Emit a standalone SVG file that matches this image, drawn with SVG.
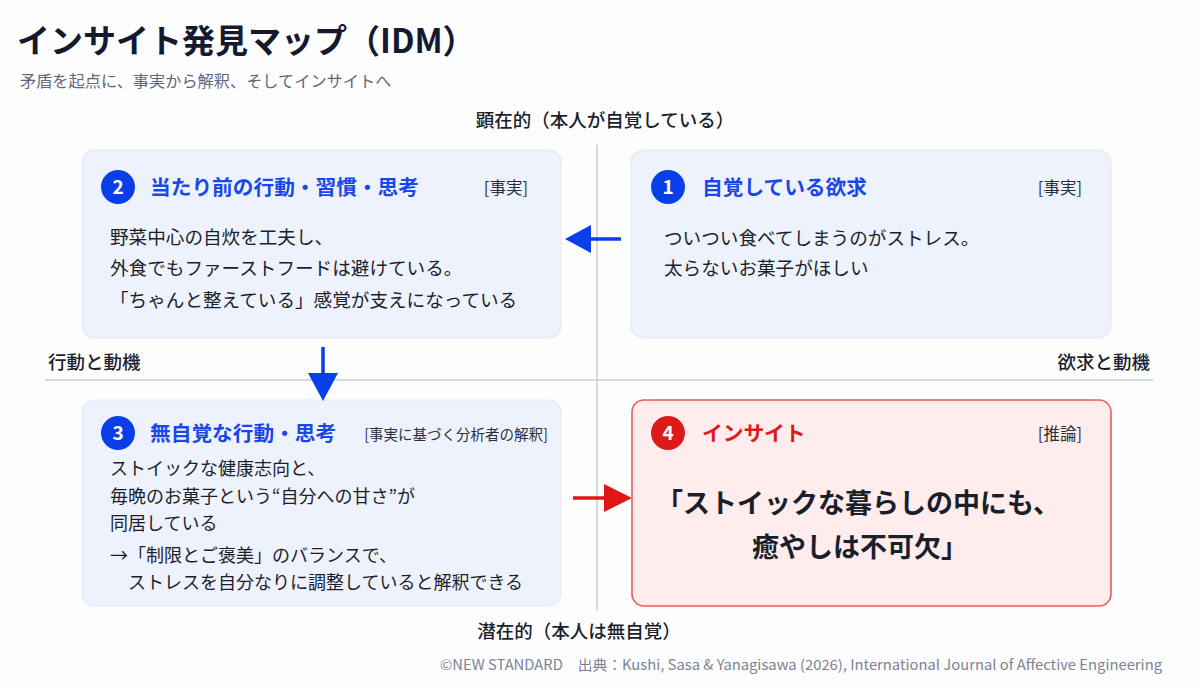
<svg xmlns="http://www.w3.org/2000/svg" width="1200" height="686" viewBox="0 0 1200 686">
<defs>
<style>
text{font-family:"Noto Sans CJK JP","Noto Sans",sans-serif;}
.title{font-size:33px;font-weight:700;fill:#141a2e;}
.sub{font-size:16.2px;fill:#5d6781;}
.axis{font-size:18.5px;font-weight:500;fill:#1b1f2b;}
.box{fill:#eef2fc;stroke:#e2e8f6;stroke-width:1;}
.box4{fill:#ffecec;stroke:#e85c5c;stroke-width:1.6;}
.num{font-size:19px;font-weight:700;fill:#fff;}
.head{font-size:20.7px;font-weight:700;fill:#1a48e8;}
.headr{font-size:20.7px;font-weight:700;fill:#dc1a1a;}
.tag{font-size:16.5px;fill:#2b2f3a;}
.body{font-size:18.6px;fill:#1b1f2b;}
.body3{font-size:18px;fill:#1b1f2b;}
.big{font-size:27px;font-weight:700;fill:#1b1f2b;}
.foot{font-size:14px;fill:#7c8394;}
.guide{stroke:#c7ccd8;stroke-width:1.5;}
</style>
</defs>
<rect width="1200" height="686" fill="#fdfdfe"/>
<text class="title" x="17" y="53">インサイト発見マップ（IDM）</text>
<text class="sub" x="20" y="87">矛盾を起点に、事実から解釈、そしてインサイトへ</text>

<g id="axes">
<line class="guide" x1="597" y1="145" x2="597" y2="611"/>
<line class="guide" x1="45" y1="380" x2="1153" y2="380"/>
<text class="axis" x="605" y="127" text-anchor="middle">顕在的（本人が自覚している）</text>
<text class="axis" x="579" y="638" text-anchor="middle">潜在的（本人は無自覚）</text>
<text class="axis" x="48" y="369">行動と動機</text>
<text class="axis" x="1150" y="369" text-anchor="end">欲求と動機</text>
</g>

<g id="node2">
<rect class="box" x="82" y="150" width="479" height="188" rx="12"/>
<circle cx="118" cy="187" r="17" fill="#0a3ee8"/>
<text class="num" x="118" y="194" text-anchor="middle">2</text>
<text class="head" x="150" y="195">当たり前の行動・習慣・思考</text>
<text class="tag" x="528" y="194" text-anchor="end">[事実]</text>
<text class="body" x="110" y="244">野菜中心の自炊を工夫し、</text>
<text class="body" x="110" y="275">外食でもファーストフードは避けている。</text>
<text class="body" x="110" y="307">「ちゃんと整えている」感覚が支えになっている</text>
</g>

<g id="node1">
<rect class="box" x="631" y="150" width="480" height="188" rx="12"/>
<circle cx="668" cy="187" r="17" fill="#0a3ee8"/>
<text class="num" x="668" y="194" text-anchor="middle">1</text>
<text class="head" x="702" y="195">自覚している欲求</text>
<text class="tag" x="1082" y="194" text-anchor="end">[事実]</text>
<text class="body" x="664" y="245">ついつい食べてしまうのがストレス。</text>
<text class="body" x="664" y="275">太らないお菓子がほしい</text>
</g>

<g id="node3">
<rect class="box" x="82" y="400" width="479" height="206" rx="12"/>
<circle cx="118" cy="433" r="17" fill="#0a3ee8"/>
<text class="num" x="118" y="440" text-anchor="middle">3</text>
<text class="head" x="150" y="441">無自覚な行動・思考</text>
<text class="tag" x="548" y="440" text-anchor="end" style="font-size:14.5px">[事実に基づく分析者の解釈]</text>
<text class="body3" x="110" y="475">ストイックな健康志向と、</text>
<text class="body3" x="110" y="503">毎晩のお菓子という“自分への甘さ”が</text>
<text class="body3" x="110" y="530">同居している</text>
<text class="body3" x="110" y="562">→「制限とご褒美」のバランスで、</text>
<text class="body3" x="128" y="589">ストレスを自分なりに調整していると解釈できる</text>
</g>

<g id="node4">
<rect class="box4" x="632" y="400" width="479" height="206" rx="12"/>
<circle cx="668" cy="433" r="17" fill="#dc1a1a"/>
<text class="num" x="668" y="440" text-anchor="middle">4</text>
<text class="headr" x="702" y="441">インサイト</text>
<text class="tag" x="1082" y="440" text-anchor="end">[推論]</text>
<text class="big" x="858" y="513" text-anchor="middle">「ストイックな暮らしの中にも、</text>
<text class="big" x="860" y="557" text-anchor="middle">癒やしは不可欠」</text>
</g>

<g id="connectors">
<line x1="621" y1="239" x2="588" y2="239" stroke="#0a3ee8" stroke-width="3.5"/>
<polygon points="565,239 591,225 591,253" fill="#0a3ee8"/>
<line x1="323" y1="347" x2="323" y2="376" stroke="#0a3ee8" stroke-width="3.5"/>
<polygon points="323,401 308,373 338,373" fill="#0a3ee8"/>
<line x1="573" y1="498" x2="606" y2="498" stroke="#e01515" stroke-width="3.5"/>
<polygon points="632,498 604,484 604,512" fill="#e01515"/>
</g>

<text class="foot" x="440" y="670" textLength="722" lengthAdjust="spacingAndGlyphs">©NEW STANDARD　出典：Kushi, Sasa &amp; Yanagisawa (2026), International Journal of Affective Engineering</text>
</svg>
